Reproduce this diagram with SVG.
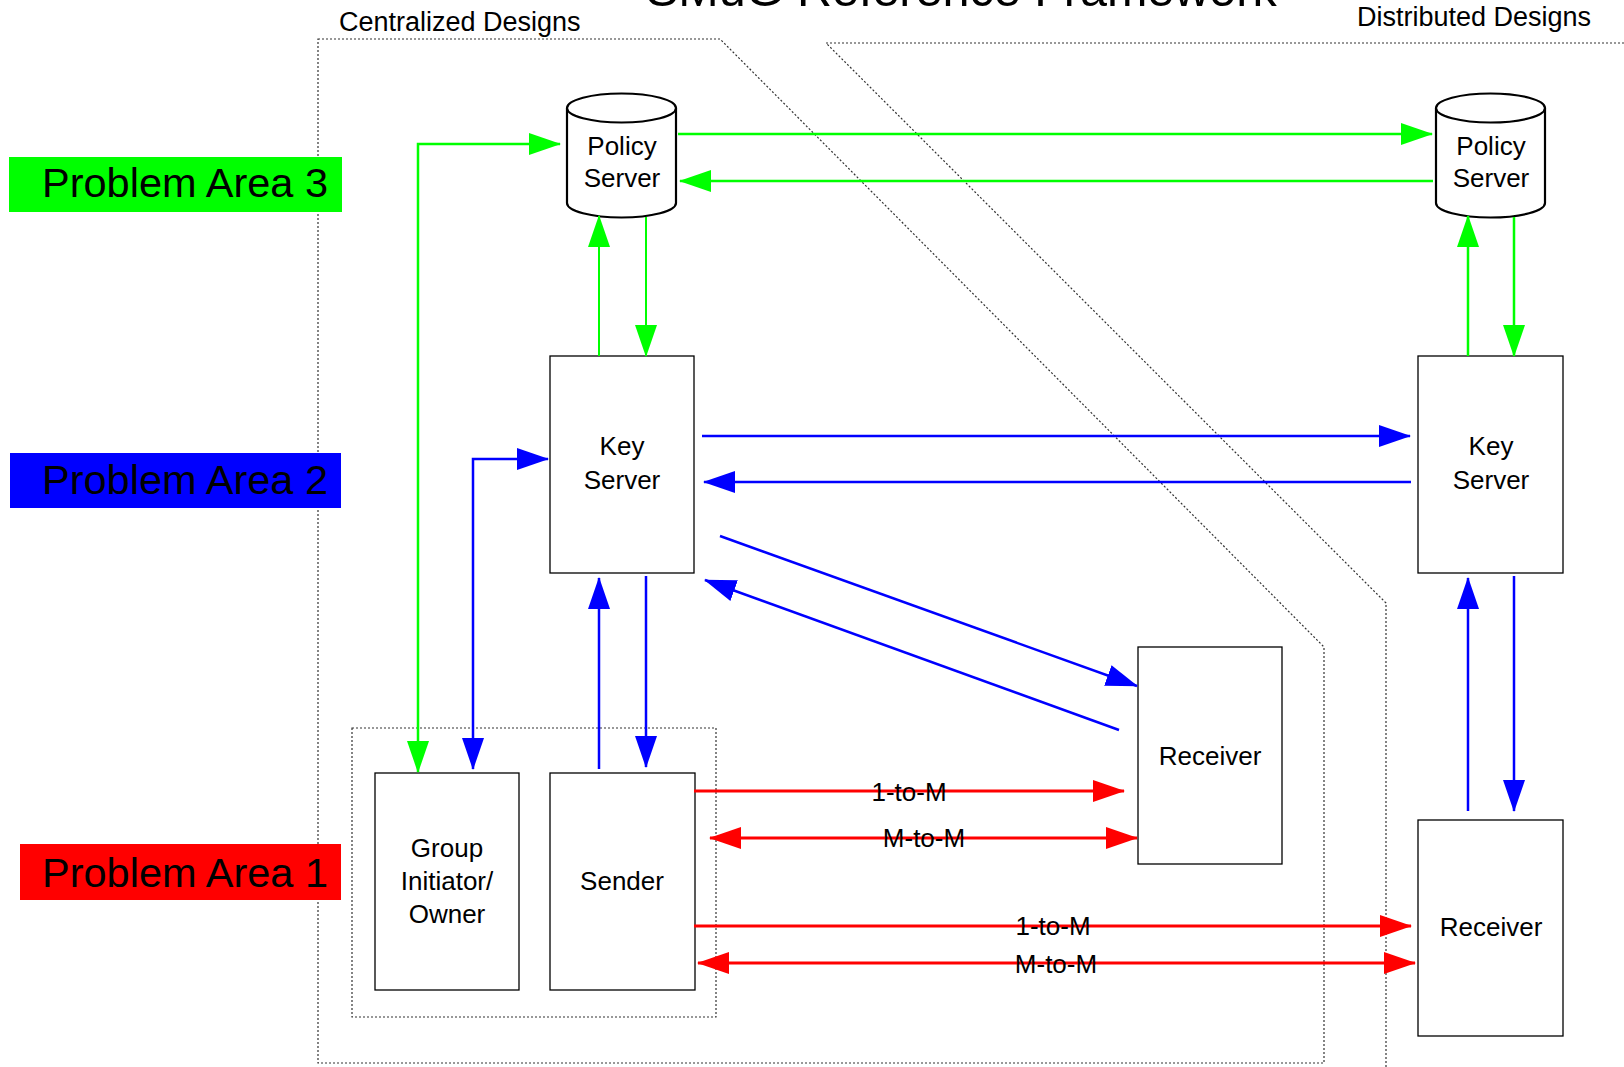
<svg xmlns="http://www.w3.org/2000/svg" width="1624" height="1067" viewBox="0 0 1624 1067">
<style>
text{font-family:"Liberation Sans",Arial,sans-serif;fill:#000}
.lbl{font-size:26px;text-anchor:middle}
.pa{font-size:41.5px}
.hdr{font-size:27px}
.region{fill:none;stroke:#333;stroke-width:1.2;stroke-dasharray:2 2}
.box{fill:#fff;stroke:#000;stroke-width:1.3}
.cyl{fill:#fff;stroke:#000;stroke-width:2.2}
.g{fill:none;stroke:#00ff00;stroke-width:2.5;marker-end:url(#ag)}
.b{fill:none;stroke:#0000ff;stroke-width:2.5;marker-end:url(#ab)}
.r{fill:none;stroke:#ff0000;stroke-width:2.8;marker-end:url(#ar)}
.gs{marker-start:url(#ag)}
.bs{marker-start:url(#ab)}
.rs{marker-start:url(#ar)}
</style>
<defs>
<marker id="ag" markerUnits="userSpaceOnUse" markerWidth="32" markerHeight="22" refX="31" refY="11" orient="auto-start-reverse"><path d="M0,0 L32,11 L0,22 Z" fill="#00ff00"/></marker>
<marker id="ab" markerUnits="userSpaceOnUse" markerWidth="32" markerHeight="22" refX="31" refY="11" orient="auto-start-reverse"><path d="M0,0 L32,11 L0,22 Z" fill="#0000ff"/></marker>
<marker id="ar" markerUnits="userSpaceOnUse" markerWidth="32" markerHeight="22" refX="31" refY="11" orient="auto-start-reverse"><path d="M0,0 L32,11 L0,22 Z" fill="#ff0000"/></marker>
</defs>
<rect width="1624" height="1067" fill="#fff"/>
<text x="646" y="6" style="font-size:48.5px">SMuG Reference Framework</text>
<g id="regions">
<path class="region" d="M318,39 L720,39 L1324,647 L1324,1063 L318,1063 Z"/>
<path class="region" d="M1624,43 L826,43 L1386,603 L1386,1067"/>
<rect class="region" x="352" y="728" width="364" height="289"/>
<text class="hdr" x="339" y="31">Centralized Designs</text>
<text class="hdr" x="1357" y="26">Distributed Designs</text>
</g>
<g id="pa3"><rect x="9" y="157" width="333" height="55" fill="#00ff00"/><text class="pa" x="42" y="197">Problem Area 3</text></g>
<g id="pa2"><rect x="10" y="453" width="331" height="55" fill="#0000ff"/><text class="pa" x="42" y="494">Problem Area 2</text></g>
<g id="pa1"><rect x="20" y="844" width="321" height="56" fill="#ff0000"/><text class="pa" x="42" y="887">Problem Area 1</text></g>
<g id="policy-server-c">
<path class="cyl" d="M567,108 L567,203 A54.5,14.5 0 0 0 676,203 L676,108 A54.5,14.5 0 0 0 567,108 Z"/>
<path class="cyl" d="M567,108 A54.5,14.5 0 0 0 676,108"/>
<text class="lbl" x="622" y="155">Policy</text><text class="lbl" x="622" y="187">Server</text>
</g>
<g id="policy-server-d">
<path class="cyl" d="M1436,108 L1436,203 A54.5,14.5 0 0 0 1545,203 L1545,108 A54.5,14.5 0 0 0 1436,108 Z"/>
<path class="cyl" d="M1436,108 A54.5,14.5 0 0 0 1545,108"/>
<text class="lbl" x="1491" y="155">Policy</text><text class="lbl" x="1491" y="187">Server</text>
</g>
<g id="key-server-c"><rect class="box" x="550" y="356" width="144" height="217"/><text class="lbl" x="622" y="455">Key</text><text class="lbl" x="622" y="489">Server</text></g>
<g id="key-server-d"><rect class="box" x="1418" y="356" width="145" height="217"/><text class="lbl" x="1491" y="455">Key</text><text class="lbl" x="1491" y="489">Server</text></g>
<g id="group-initiator"><rect class="box" x="375" y="773" width="144" height="217"/><text class="lbl" x="447" y="857">Group</text><text class="lbl" x="447" y="890">Initiator/</text><text class="lbl" x="447" y="923">Owner</text></g>
<g id="sender"><rect class="box" x="550" y="773" width="145" height="217"/><text class="lbl" x="622" y="890">Sender</text></g>
<g id="receiver-c"><rect class="box" x="1138" y="647" width="144" height="217"/><text class="lbl" x="1210" y="765">Receiver</text></g>
<g id="receiver-d"><rect class="box" x="1418" y="820" width="145" height="216"/><text class="lbl" x="1491" y="936">Receiver</text></g>
<g id="connectors">
<path class="g gs" d="M418,772 L418,144 L560,144"/>
<path class="g" d="M678,134 L1432,134"/>
<path class="g" d="M1433,181 L680,181"/>
<path class="g" d="M599,356 L599,216" style="stroke-width:2"/>
<path class="g" d="M646,217 L646,356" style="stroke-width:2"/>
<path class="g" d="M1468,356 L1468,216"/>
<path class="g" d="M1514,217 L1514,356"/>
<path class="b bs" d="M473,769 L473,459 L548,459"/>
<path class="b" d="M702,436 L1410,436"/>
<path class="b" d="M1411,482 L704,482"/>
<path class="b" d="M599,769 L599,578"/>
<path class="b" d="M646,576 L646,767"/>
<path class="b" d="M720,536 L1137,686"/>
<path class="b" d="M1119,730 L705,580"/>
<path class="b" d="M1468,811 L1468,578"/>
<path class="b" d="M1514,576 L1514,811"/>
<path class="r" d="M694,791 L1124,791"/>
<path class="r rs" d="M710,838 L1137,838"/>
<path class="r" d="M694,926 L1411,926"/>
<path class="r rs" d="M698,963 L1415,963"/>
<text class="lbl" x="909" y="801">1-to-M</text>
<text class="lbl" x="924" y="847">M-to-M</text>
<text class="lbl" x="1053" y="935">1-to-M</text>
<text class="lbl" x="1056" y="973">M-to-M</text>
</g>
</svg>
